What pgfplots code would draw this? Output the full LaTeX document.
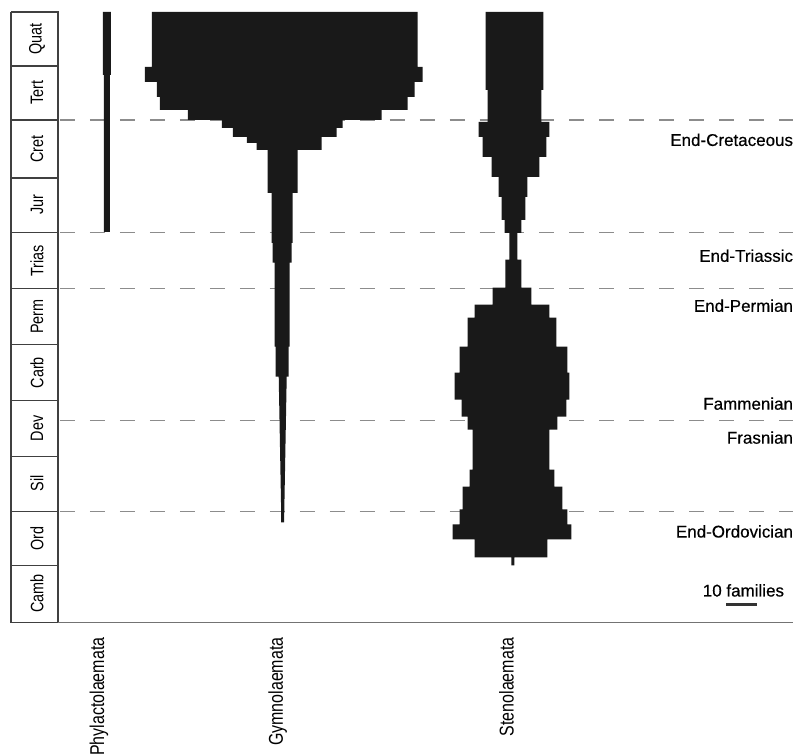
\documentclass[border=0pt]{standalone}
\usepackage{pgfplots}
\pgfplotsset{compat=1.18}
\usepackage{fontspec}
\setmainfont{Liberation Sans}[FakeBold=0.4]
\newfontfamily\cond{Liberation Sans}[FakeStretch=0.8]
\begin{document}
\begin{tikzpicture}
\begin{axis}[hide axis, scale only axis, width=794bp, height=751bp,
  xmin=0, xmax=794, ymin=0, ymax=751, y dir=reverse, clip=false]
% invisible frame
\addplot[draw=none] coordinates {(0,0)(794,751)};
% dashed extinction lines
\pgfplotsinvokeforeach{120,233,289,421,512}{
  \addplot[gray!90, line width=1.4bp, dash pattern=on 15bp off 15bp] coordinates {(60,#1)(794,#1)};
}
% time scale box
\addplot[black!75, line width=1.6bp] coordinates {(11,12)(58,12)(58,623)(11,623)(11,12)};
\pgfplotsinvokeforeach{66,120,178,233,289,345,401,457,512,566}{
  \addplot[black!75, line width=1.4bp] coordinates {(11,#1)(58,#1)};
}
\addplot[black!55, line width=1.6bp] coordinates {(58,623)(794,623)};
% Phylactolaemata
\addplot[draw=none, fill=black!90] coordinates {(103,12)(103,75)(104,75)(104,232)(110,232)(110,75)(111,75)(111,12)} --cycle;
% Gymnolaemata
\addplot[draw=none, fill=black!90] coordinates {
(152,12)(152,67)(145,67)(145,82)(157,82)(157,97)(160,97)(160,110)(188,110)(188,120)(222,120)(222,128)(233,128)(233,137)(247,137)(247,143)(257,143)(257,150)(268,150)(268,193)(272,193)(272,243)(273,243)(273,263)(275,263)(275,347)(276,347)(276,377)(279,377)(281.5,515)(281.5,523)
(284.5,523)(284.5,515)(287,377)(289,377)(289,347)(290,347)(290,263)(292,263)(292,243)(293,243)(293,193)(298,193)(298,150)(322,150)(322,137)(337,137)(337,128)(343,128)(343,120)(382,120)(382,110)(408,110)(408,97)(415,97)(415,82)(423,82)(423,67)(418,67)(418,12)} --cycle;
% Stenolaemata
\addplot[draw=none, fill=black!90] coordinates {
(486,12)(486,90)(488,90)(488,122)(479,122)(479,137)(483,137)(483,157)(492,157)(492,177)(499,177)(499,197)(502,197)(502,220)(505,220)(505,233)(510,233)(510,260)(506,260)(506,288)(493,288)(493,305)(475,305)(475,318)(468,318)(468,347)(460,347)(460,373)(455,373)(455,400)(462,400)(462,417)(468,417)(468,430)(473,430)(473,470)(470,470)(470,487)(463,487)(463,510)(460,510)(460,525)(453,525)(453,540)(475,540)(475,558)(512,558)(512,566)
(515,566)(515,558)(548,558)(548,540)(572,540)(572,525)(568,525)(568,510)(563,510)(563,487)(555,487)(555,470)(550,470)(550,430)(558,430)(558,417)(567,417)(567,400)(570,400)(570,373)(568,373)(568,347)(557,347)(557,318)(550,318)(550,305)(532,305)(532,288)(522,288)(522,260)(518,260)(518,233)(522,233)(522,220)(526,220)(526,197)(528,197)(528,177)(540,177)(540,157)(547,157)(547,137)(550,137)(550,122)(542,122)(542,90)(544,90)(544,12)} --cycle;
% scale bar
\addplot[black!80, line width=3bp] coordinates {(727,605)(758,605)};
% period labels
\begin{scope}[every node/.style={rotate=90, font=\cond\fontsize{18bp}{20bp}\selectfont, text=black}]
\node at (axis cs:37,39) {Quat};
\node at (axis cs:37,93) {Tert};
\node at (axis cs:37,149) {Cret};
\node at (axis cs:37,205) {Jur};
\node at (axis cs:37,261) {Trias};
\node at (axis cs:37,317) {Perm};
\node at (axis cs:37,373) {Carb};
\node at (axis cs:37,429) {Dev};
\node at (axis cs:37,484) {Sil};
\node at (axis cs:37,539) {Ord};
\node at (axis cs:37,594) {Camb};
\end{scope}
% event labels
\begin{scope}[every node/.style={anchor=east, inner sep=0pt, font=\fontsize{17bp}{20bp}\selectfont, text=black}]
\node at (axis cs:794,140) {End-Cretaceous};
\node at (axis cs:794,256) {End-Triassic};
\node at (axis cs:794,306) {End-Permian};
\node at (axis cs:794,404) {Fammenian};
\node at (axis cs:794,438) {Frasnian};
\node at (axis cs:794,532) {End-Ordovician};
\node at (axis cs:785,591) {10 families};
\end{scope}
% clade labels
\begin{scope}[every node/.style={rotate=90, anchor=east, inner sep=0pt, font=\cond\fontsize{20bp}{22bp}\selectfont, text=black}]
\node at (axis cs:99,638) {Phylactolaemata};
\node at (axis cs:278,638) {Gymnolaemata};
\node at (axis cs:507,638) {Stenolaemata};
\end{scope}
\end{axis}
\end{tikzpicture}
\end{document}
